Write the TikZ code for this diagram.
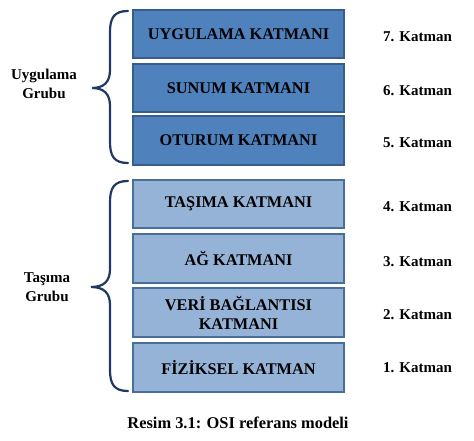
\documentclass[tikz,border=0pt]{standalone}
\usepackage{fontspec}
\setmainfont{Liberation Serif}
\definecolor{topfill}{HTML}{4F81BD}
\definecolor{topdraw}{HTML}{385D8A}
\definecolor{botfill}{HTML}{95B3D7}
\definecolor{botdraw}{HTML}{4A6E9A}
\definecolor{bracecol}{HTML}{1F3864}
\begin{document}
\begin{tikzpicture}[x=1pt,y=-1pt,
  layerbox/.style={draw, line width=2pt, minimum width=211pt, inner sep=0pt, align=center,
     font=\bfseries\fontsize{16.3}{19}\selectfont, text=black},
  upperbox/.style={layerbox, fill=topfill, draw=topdraw},
  lowerbox/.style={layerbox, fill=botfill, draw=botdraw},
  numlabel/.style={anchor=west, font=\bfseries\fontsize{15}{18}\selectfont, inner sep=0pt},
  grouplabel/.style={align=center, font=\bfseries\fontsize{15}{18.5}\selectfont, inner sep=0pt},
  bracepath/.style={draw=bracecol, line width=2.2pt, line cap=round}]
\useasboundingbox (0,0) rectangle (474,441);
\node[upperbox, minimum height=48pt] (l7) at (238.5,34) {UYGULAMA KATMANI};
\node[upperbox, minimum height=48pt] (l6) at (238.5,88) {SUNUM KATMANI};
\node[upperbox, minimum height=49pt] (l5) at (238.5,140.5) {OTURUM KATMANI};
\node[lowerbox, minimum height=48pt] (l4) at (238.5,204) {TAŞIMA KATMANI};
\node[lowerbox, minimum height=49pt] (l3) at (238.5,258.5) {AĞ KATMANI};
\node[lowerbox, minimum height=49pt] (l2) at (238.5,312.5) {VERİ BAĞLANTISI\\KATMANI};
\node[lowerbox, minimum height=49pt] (l1) at (238.5,367.5) {FİZİKSEL KATMAN};
\node[numlabel] (n7) at (383,37) {7. Katman};
\node[numlabel] (n6) at (383,91) {6. Katman};
\node[numlabel] (n5) at (383,143) {5. Katman};
\node[numlabel] (n4) at (383,207) {4. Katman};
\node[numlabel] (n3) at (383,262) {3. Katman};
\node[numlabel] (n2) at (383,315) {2. Katman};
\node[numlabel] (n1) at (383,368) {1. Katman};
\node[grouplabel] (gu) at (44,84) {Uygulama\\Grubu};
\node[grouplabel] (gt) at (47,287) {Taşıma\\Grubu};
\draw[bracepath] (128,11) .. controls (114,11) and (110,18) .. (110,32) -- (110,70)
  .. controls (110,82) and (104,88) .. (92,88)
  .. controls (104,88) and (110,94) .. (110,106) -- (110,142)
  .. controls (110,156) and (114,163) .. (128,163);
\draw[bracepath] (128,181) .. controls (114,181) and (110,188) .. (110,202) -- (110,269)
  .. controls (110,281) and (104,287) .. (91,287)
  .. controls (104,287) and (110,293) .. (110,305) -- (110,370)
  .. controls (110,384) and (114,391) .. (128,391);
\node[font=\bfseries\fontsize{16.4}{19}\selectfont, inner sep=0pt] (cap) at (238,423) {Resim 3.1: OSI referans modeli};
\end{tikzpicture}
\end{document}
